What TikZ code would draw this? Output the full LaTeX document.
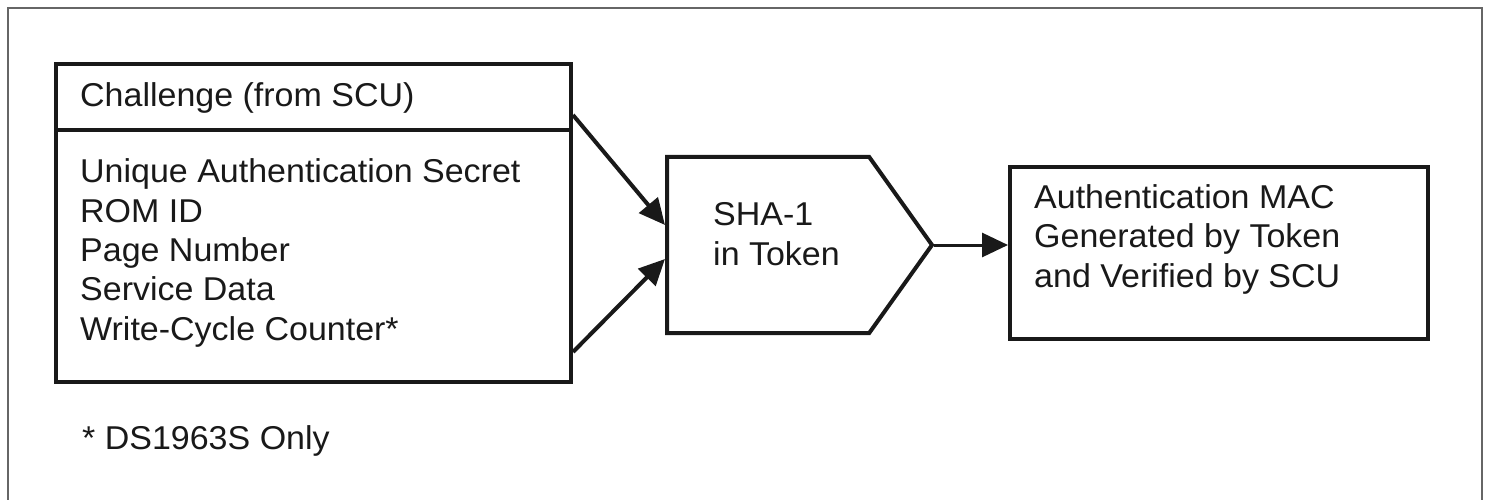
\documentclass[tikz,border=0pt]{standalone}
\usepackage{fontspec}
\setmainfont{Liberation Sans}[FakeStretch=1.03]
\usetikzlibrary{arrows.meta,shapes.symbols,positioning}
\colorlet{myframe}{black!60}
\colorlet{myink}{black!90}

\begin{document}
\begin{tikzpicture}[x=1pt,y=-1pt]
\tikzset{BoxStyle/.style ={draw=myink,line width=4pt,rectangle,anchor=north west,inner sep=0pt}}
\tikzset{TextStyle/.style ={text=myink,font=\fontsize{33}{39.3}\selectfont,align=left,inner sep=0pt,anchor=base west}}
\tikzset{EdgeStyle/.style ={-{Triangle[length=26pt,width=24pt]},line width=4pt,color=myink}}
\useasboundingbox (0,0) rectangle (1489,500);
\draw[myframe,line width=2pt] (8,8) rectangle (1482,512);
\node[BoxStyle,minimum width=515,minimum height=66] (challenge) at (54,62) {};
\node[BoxStyle,minimum width=515,minimum height=252] (fields) at (54,128) {};
\node[BoxStyle,signal,signal to=east,signal pointer angle=109,
  minimum width=265,minimum height=176] (sha) at (665,155) {};
\node[BoxStyle,minimum width=418,minimum height=172] (mac) at (1008,165) {};
\node[TextStyle] (challengetext) at ([shift={(26,45)}]challenge.north west) {Challenge (from SCU)};
\node[TextStyle] (fieldstext) at ([shift={(26,212)}]fields.north west)
  {Unique Authentication Secret\\ROM ID\\Page Number\\Service Data\\Write-Cycle Counter*};
\node[TextStyle] (note) at ([shift={(28,65)}]fields.south west) {* DS1963S Only};
\node[TextStyle] (shatext) at ([shift={(48,20)}]sha.west) {SHA-1\\in Token};
\node[TextStyle] (mactext) at ([shift={(26,122)}]mac.north west)
  {Authentication MAC\\Generated by Token\\and Verified by SCU};
\draw[EdgeStyle] ([yshift=-53pt]challenge.north east) -- ([yshift=20pt]sha.west);
\draw[EdgeStyle] ([yshift=32pt]fields.south east) -- ([yshift=-14pt]sha.west);
\draw[EdgeStyle,line width=3pt] (sha.east) -- (sha.east -| mac.west);
\end{tikzpicture}
\end{document}
